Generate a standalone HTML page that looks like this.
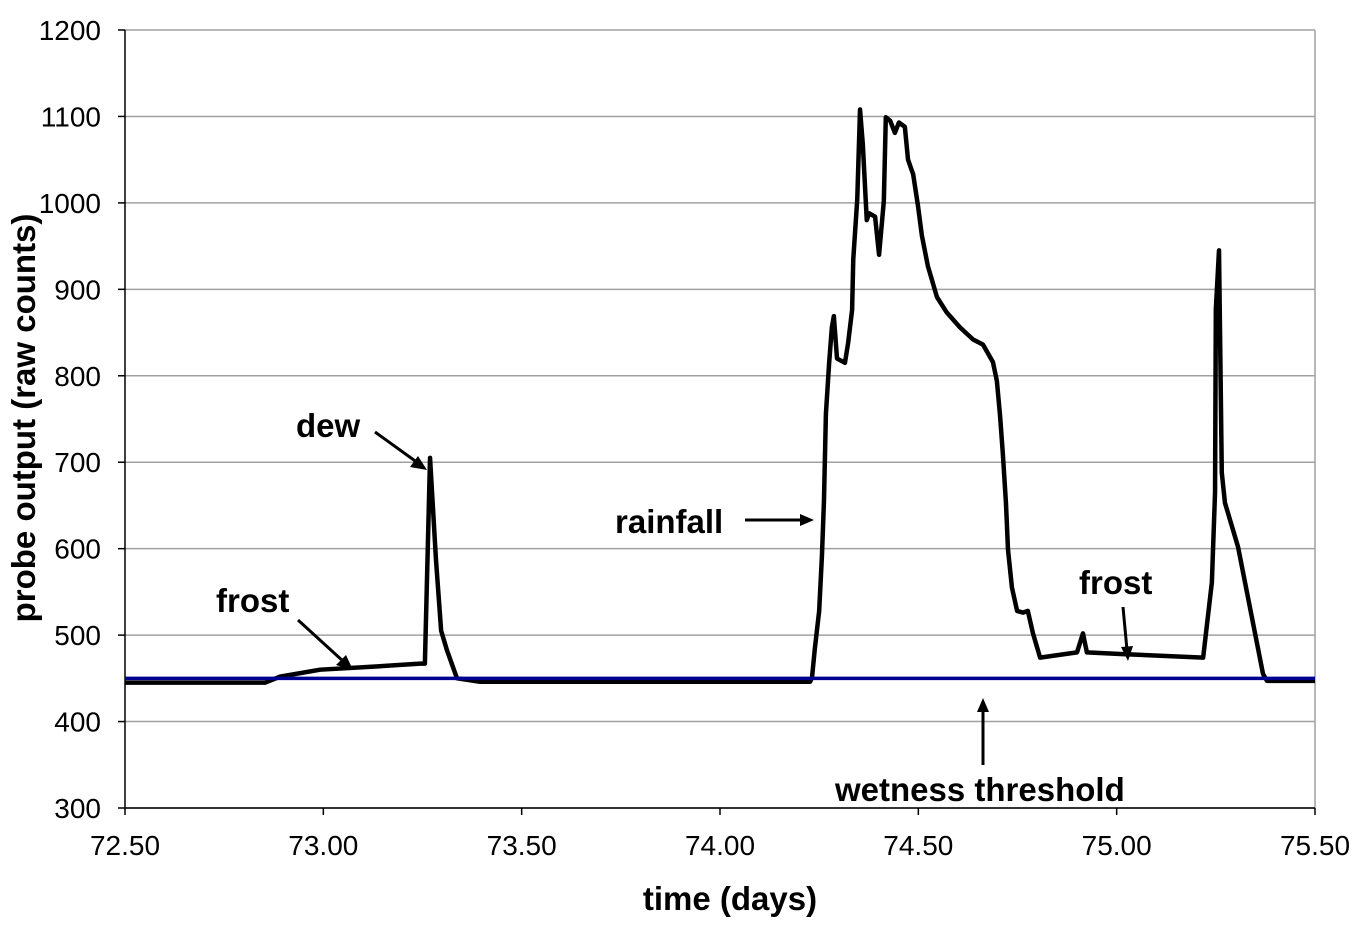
<!DOCTYPE html>
<html><head><meta charset="utf-8"><style>
body{margin:0;background:#fff;}
svg text{font-family:"Liberation Sans",Arial,sans-serif;}
</style></head><body>
<svg width="1372" height="934" viewBox="0 0 1372 934">
<g id="grid"></g>
<g id="axes"></g>
<g id="series"></g>
<g font-weight="bold" font-size="33" fill="#000">
<text x="296" y="437">dew</text>
<text x="216" y="612">frost</text>
<text x="615" y="533">rainfall</text>
<text x="1079" y="594">frost</text>
<text x="835" y="801">wetness threshold</text>
<text x="730" y="910" text-anchor="middle">time (days)</text>
<text transform="translate(35,418) rotate(-90)" text-anchor="middle">probe output (raw counts)</text>
</g>
<g stroke="#000" stroke-width="3" fill="#000">
<line x1="375" y1="432" x2="418" y2="463"/><polygon points="427,470 410,467 418,456" stroke="none"/>
<line x1="298" y1="620" x2="344" y2="662"/><polygon points="353,670 336,665 346,655" stroke="none"/>
<line x1="745" y1="520" x2="802" y2="520"/><polygon points="814,520 800,514 800,526" stroke="none"/>
<line x1="1123" y1="607" x2="1127" y2="650"/><polygon points="1128,661 1121,647 1133,646" stroke="none"/>
<line x1="983" y1="765" x2="983" y2="710"/><polygon points="983,698 977,712 989,712" stroke="none"/>
</g>
</svg>
<script>
const times=[72.500,72.853,72.891,72.992,73.143,73.244,73.256,73.269,73.284,73.297,73.312,73.337,73.395,74.227,74.232,74.239,74.250,74.257,74.262,74.267,74.275,74.282,74.287,74.295,74.315,74.323,74.333,74.336,74.346,74.353,74.360,74.370,74.376,74.391,74.401,74.413,74.418,74.429,74.441,74.451,74.466,74.474,74.487,74.499,74.509,74.524,74.547,74.572,74.605,74.638,74.663,74.688,74.698,74.706,74.713,74.721,74.726,74.736,74.749,74.764,74.776,74.789,74.807,74.900,74.915,74.925,75.016,75.218,75.240,75.248,75.250,75.258,75.265,75.273,75.306,75.369,75.379,75.500];
const values=[445,445,452,460,464,467,467,705,587,505,482,450,446,446,451,484,528,592,654,756,814,856,869,820,815,838,876,935,1004,1108,1068,980,988,984,940,1002,1099,1095,1081,1093,1088,1050,1033,997,962,927,891,873,856,842,836,816,794,754,710,652,599,555,528,526,528,502,474,480,502,480,478,474,561,665,877,945,688,653,602,455,447,447];
const threshold=450;
const yTicks=[300,400,500,600,700,800,900,1000,1100,1200];
const xTicks=[72.5,73.0,73.5,74.0,74.5,75.0,75.5];
const X0=125,X1=1315,Y0=808,Y1=30;
const xs=t=>X0+(t-72.5)/3*(X1-X0);
const ys=v=>Y0-(v-300)/900*(Y0-Y1);
const NS='http://www.w3.org/2000/svg';
function mk(tag,attrs,parent){const e=document.createElementNS(NS,tag);for(const k in attrs)e.setAttribute(k,attrs[k]);parent.appendChild(e);return e;}
const grid=document.getElementById('grid'),axes=document.getElementById('axes'),series=document.getElementById('series');
yTicks.forEach(v=>{
 const g=mk('line',{x1:X0,x2:X1,y1:ys(v),y2:ys(v),stroke:'#a0a0a0','stroke-width':1.5},grid);
 
 
 const tk=mk('line',{x1:X0-7,x2:X0,y1:ys(v),y2:ys(v),stroke:'#000','stroke-width':1.5},axes);
 
 
 const t=mk('text',{x:X0-24,y:ys(v)+10,'text-anchor':'end','font-size':28},axes);
 t.textContent=v;
 
 
});
const rb=mk('line',{x1:X1,x2:X1,y1:Y1,y2:Y0,stroke:'#a0a0a0','stroke-width':1.5},grid);


xTicks.forEach(t=>{
 const tk=mk('line',{x1:xs(t),x2:xs(t),y1:Y0,y2:Y0+7,stroke:'#000','stroke-width':1.5},axes);
 
 
 const l=mk('text',{x:xs(t),y:Y0+47,'text-anchor':'middle','font-size':28},axes);
 l.textContent=t.toFixed(2);
 
 
});
const ya=mk('line',{x1:X0,x2:X0,y1:Y1,y2:Y0,stroke:'#000','stroke-width':1.5},axes);


const xa=mk('line',{x1:X0,x2:X1,y1:Y0,y2:Y0,stroke:'#000','stroke-width':1.5},axes);


const pl=mk('polyline',{points:times.map((t,i)=>xs(t)+','+ys(values[i])).join(' '),fill:'none',stroke:'#000','stroke-width':4.5,'stroke-linejoin':'round'},series);


const th=mk('line',{x1:X0,x2:X1,y1:ys(threshold),y2:ys(threshold),stroke:'#000090','stroke-width':3.5},series);


</script>
</body></html>
